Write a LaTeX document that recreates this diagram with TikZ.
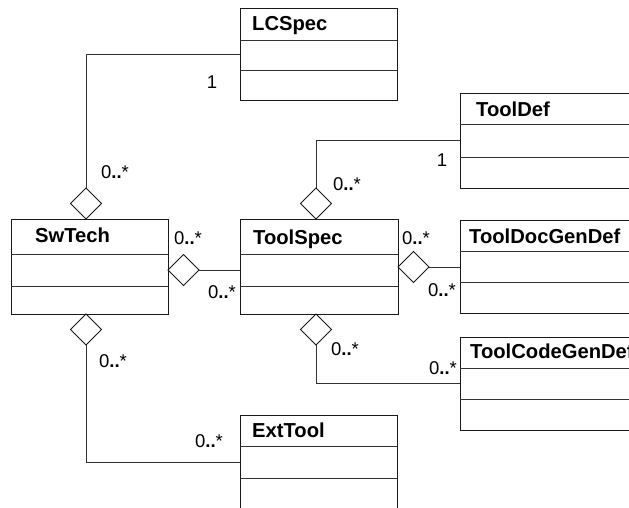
\documentclass[tikz,border=0pt]{standalone}
\usepackage{fontspec}
\setmainfont{Liberation Sans}
\usetikzlibrary{shapes.geometric}
\newcommand{\mlz}{0\textbf{..}*}
\begin{document}
\begin{tikzpicture}[x=1pt,y=-1pt,
  cls/.style={draw=black!90, rectangle, inner sep=0, outer sep=0, anchor=north west, line width=1pt},
  hdr/.style={font=\bfseries\fontsize{20.2}{22}\selectfont, inner sep=0, anchor=base west},
  diam/.style={draw=black!90, diamond, minimum width=31pt, minimum height=31pt, inner sep=0, outer sep=0, fill=white, line width=1pt},
  ml/.style={font=\fontsize{18.5}{20}\selectfont, inner sep=0},
  conn/.style={draw=black!80, line width=1pt},
  comp/.style={draw=black!80, line width=1pt}]
\useasboundingbox (0,0) rectangle (629,508);
\clip (0,0) rectangle (629,508);
\fill[white] (0,0) rectangle (629,508);

% class boxes
\node[cls, minimum width=157pt, minimum height=92pt] (lcspec) at (240,9) {};
\node[cls, minimum width=157pt, minimum height=95pt] (swtech) at (11,219) {};
\node[cls, minimum width=158pt, minimum height=95pt] (toolspec) at (240,219) {};
\node[cls, minimum width=190pt, minimum height=94pt] (tooldef) at (460,94) {};
\node[cls, minimum width=190pt, minimum height=93pt] (tooldoc) at (460,220) {};
\node[cls, minimum width=190pt, minimum height=93pt] (toolcode) at (460,337) {};
\node[cls, minimum width=157pt, minimum height=94pt] (exttool) at (240,415) {};

% compartments
\draw[comp] ([yshift=-32pt]lcspec.north west) -- ([yshift=-32pt]lcspec.north east);
\draw[comp] ([yshift=-62pt]lcspec.north west) -- ([yshift=-62pt]lcspec.north east);
\draw[comp] ([yshift=-35pt]swtech.north west) -- ([yshift=-35pt]swtech.north east);
\draw[comp] ([yshift=-67pt]swtech.north west) -- ([yshift=-67pt]swtech.north east);
\draw[comp] ([yshift=-35pt]toolspec.north west) -- ([yshift=-35pt]toolspec.north east);
\draw[comp] ([yshift=-67pt]toolspec.north west) -- ([yshift=-67pt]toolspec.north east);
\draw[comp] ([yshift=-31pt]tooldef.north west) -- ([yshift=-31pt]tooldef.north east);
\draw[comp] ([yshift=-63pt]tooldef.north west) -- ([yshift=-63pt]tooldef.north east);
\draw[comp] ([yshift=-31pt]tooldoc.north west) -- ([yshift=-31pt]tooldoc.north east);
\draw[comp] ([yshift=-62pt]tooldoc.north west) -- ([yshift=-62pt]tooldoc.north east);
\draw[comp] ([yshift=-31pt]toolcode.north west) -- ([yshift=-31pt]toolcode.north east);
\draw[comp] ([yshift=-62pt]toolcode.north west) -- ([yshift=-62pt]toolcode.north east);
\draw[comp] ([yshift=-31pt]exttool.north west) -- ([yshift=-31pt]exttool.north east);
\draw[comp] ([yshift=-63pt]exttool.north west) -- ([yshift=-63pt]exttool.north east);

% headers
\node[hdr] (lcspect) at (252,31) {LCSpec};
\node[hdr] (swtecht) at (35,242) {SwTech};
\node[hdr] (toolspect) at (253,244) {ToolSpec};
\node[hdr] (tooldeft) at (476,117) {ToolDef};
\node[hdr] (tooldoct) at (469,243) {ToolDocGenDef};
\node[hdr] (toolcodet) at (470,358) {ToolCodeGenDef};
\node[hdr] (exttoolt) at (252,437) {ExtTool};

% diamonds
\node[diam, anchor=south] (d1) at (86,219) {};
\node[diam, anchor=west] (d2) at (168,270) {};
\node[diam, anchor=north] (d3) at (86,314) {};
\node[diam, anchor=south] (d4) at (316,219) {};
\node[diam, anchor=west] (d5) at (398,267) {};
\node[diam, anchor=north] (d6) at (316,314) {};

% connectors
\draw[conn] (d1.north) |- (lcspec.west);
\draw[conn] (d2.east) -- (d2.east -| toolspec.west);
\draw[conn] (d3.south) |- (exttool.west);
\draw[conn] (d4.north) |- (tooldef.west);
\draw[conn] (d5.east) -- (d5.east -| tooldoc.west);
\draw[conn] (d6.south) |- (toolcode.west);

% multiplicities
\node[ml] (m1) at (212,82) {1};
\node[ml] (m2) at (115,172) {\mlz};
\node[ml] (m3) at (188,238) {\mlz};
\node[ml] (m4) at (222,292) {\mlz};
\node[ml] (m5) at (347,184) {\mlz};
\node[ml] (m6) at (442,160) {1};
\node[ml] (m7) at (416,238) {\mlz};
\node[ml] (m8) at (442,290) {\mlz};
\node[ml] (m9) at (345,349) {\mlz};
\node[ml] (m10) at (443,368) {\mlz};
\node[ml] (m11) at (113,361) {\mlz};
\node[ml] (m12) at (209,441) {\mlz};
\end{tikzpicture}
\end{document}
